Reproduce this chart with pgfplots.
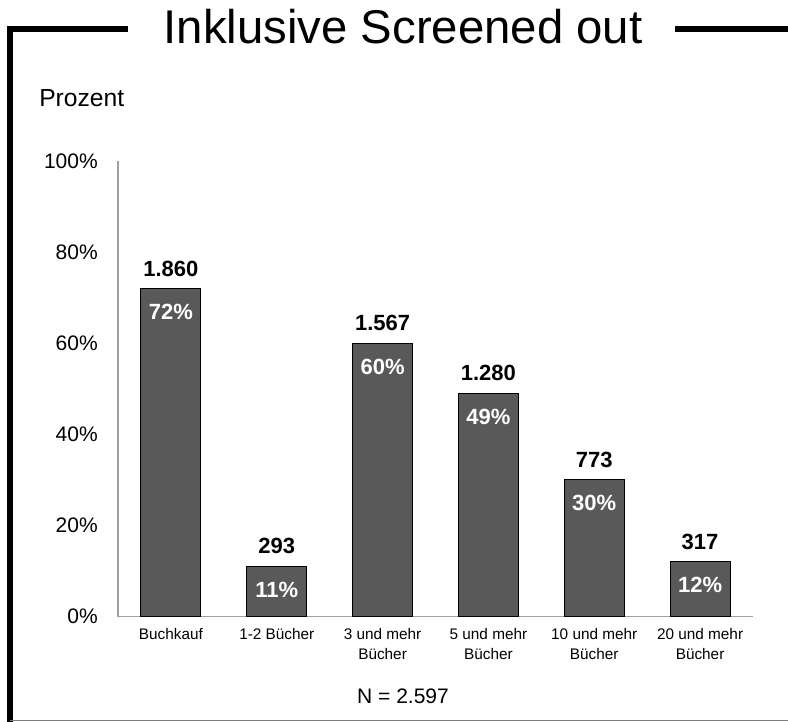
\documentclass[border=0pt]{standalone}
\usepackage{pgfplots}
\pgfplotsset{compat=1.18}
\usepackage{pgfplotstable}
\usepackage{fontspec}
\setmainfont{Liberation Sans}
\definecolor{barfill}{HTML}{595959}
\definecolor{axgray}{HTML}{A0A0A0}
\pgfplotstableread{
x pct cnt
0 72 1.860
1 11 293
2 60 1.567
3 49 1.280
4 30 773
5 12 317
}\datatable
\begin{document}
\begin{tikzpicture}
\begin{scope}[x=0.75pt,y=0.75pt]
\path[use as bounding box] (0,0) rectangle (788,721);
% frame
\draw[line width=4.2pt] (10,-5) -- (10,692) -- (128,692);
\draw[line width=4.2pt] (675,692) -- (800,692);
\draw[gray, line width=0.9pt] (10,0.6) -- (800,0.6);
\node[font=\fontsize{35.5}{40}\selectfont, anchor=base] at (403,677) {Inklusive Screened out};
\node[font=\fontsize{18.5}{22}\selectfont, anchor=base west, inner sep=0pt] at (39,614) {Prozent};
\node[font=\fontsize{15.75}{18}\selectfont, anchor=base, inner sep=0pt] at (403,18) {N = 2.597};
\end{scope}
\begin{axis}[
  at={(88.5pt,78.375pt)}, anchor=south west,
  scale only axis, width=476.25pt, height=341.25pt,
  xmin=-0.5, xmax=5.5, ymin=0, ymax=100,
  axis x line*=bottom, axis y line*=left,
  axis line style={draw=axgray, line width=1.2pt, -},
  major tick length=0pt,
  ytick={0,20,40,60,80,100},
  yticklabel={\pgfmathprintnumber{\tick}\%},
  /pgf/number format/assume math mode=true,
  yticklabel style={font=\fontsize{15.75}{18}\selectfont, anchor=east, inner sep=0pt, xshift=-15pt},
  xtick={0,1,2,3,4,5},
  xticklabels={Buchkauf, 1-2 Bücher, 3 und mehr\\Bücher, 5 und mehr\\Bücher, 10 und mehr\\Bücher, 20 und mehr\\Bücher},
  xticklabel style={font=\fontsize{11.5}{15}\selectfont, align=center, anchor=north, inner sep=0pt, yshift=-9pt},
  clip=false,
]
\addplot[ybar, bar width=45pt, bar shift=0pt, fill=barfill, draw=black, line width=0.75pt,
  point meta=explicit symbolic,
  nodes near coords,
  every node near coord/.style={font=\fontsize{16.5}{18}\selectfont\bfseries, text=black, anchor=base, inner sep=0pt, yshift=9.5pt}]
  table[x=x, y=pct, meta=cnt] {\datatable};
\addplot[draw=none, mark=none,
  point meta=y,
  nodes near coords={\pgfmathprintnumber{\pgfplotspointmeta}\%},
  every node near coord/.style={font=\fontsize{16.5}{18}\selectfont\bfseries, text=white, anchor=center, inner sep=0pt, yshift=-17.5pt, /pgf/number format/assume math mode=true}]
  table[x=x, y=pct] {\datatable};
\end{axis}
\end{tikzpicture}
\end{document}
